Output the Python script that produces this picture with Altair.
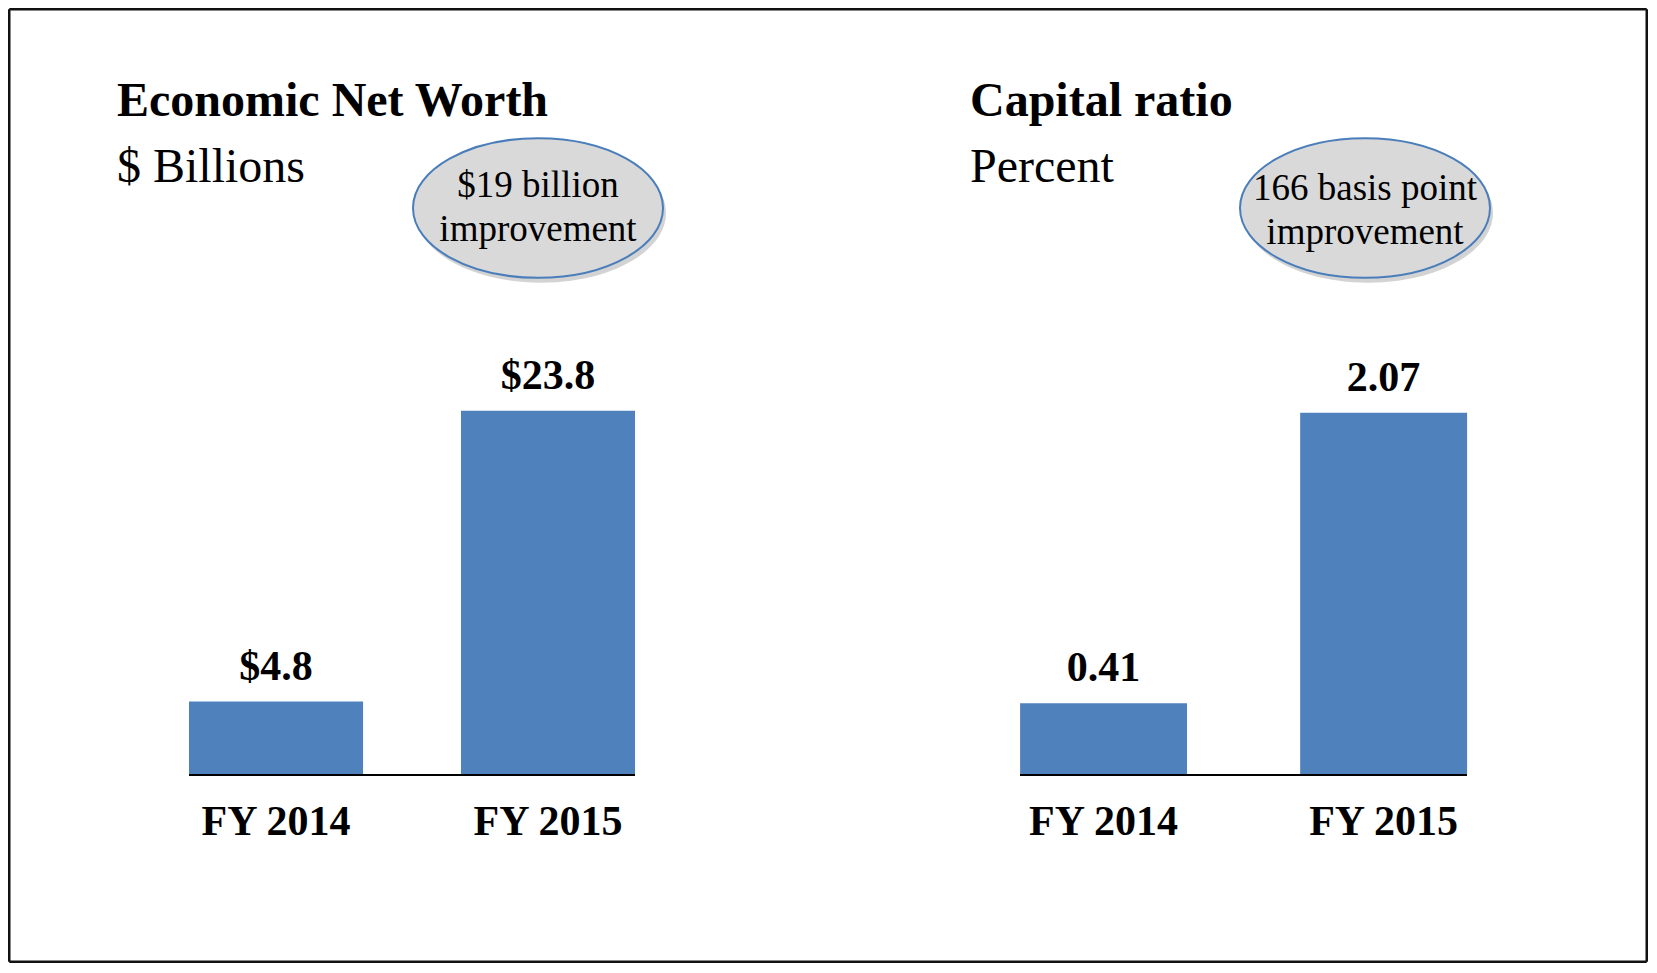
import altair as alt
import pandas as pd

# ---- data ----
categories = ["FY 2014", "FY 2015"]
net_worth = [4.8, 23.8]
net_worth_labels = ["$4.8", "$23.8"]
capital_ratio = [0.41, 2.07]
capital_labels = ["0.41", "2.07"]

FONT = "Liberation Serif"
BLUE = "#4F81BD"
PW, PH = 820, 955   # each panel
BASE_Y = 767        # baseline (zero) in panel coords

k = 0.5523
ry = 0.558
ELLIPSE = (f"M1,0 C1,{ry*k:.4f} {k},{ry} 0,{ry} C{-k},{ry} -1,{ry*k:.4f} -1,0 "
           f"C-1,{-ry*k:.4f} {-k},{-ry} 0,{-ry} C{k},{-ry} 1,{-ry*k:.4f} 1,0 Z")


def one():
    return alt.Data(values=[{"a": 1}])


def text_at(txt, x, y, size, bold=False, align="left"):
    return alt.Chart(one()).mark_text(
        text=txt, font=FONT, fontSize=size, fontWeight="bold" if bold else "normal",
        align=align, baseline="alphabetic", color="black"
    ).encode(x=alt.value(x), y=alt.value(y))


def panel(values, labels, pxunit, pin, pout, align, bar_l, bar_r,
          title, subtitle, tx, ell_x, ell_txt, txt_x, txt_y, side):
    df = pd.DataFrame({"cat": categories, "value": values, "label": labels})
    ymin = -(PH - BASE_Y) / pxunit
    ymax = BASE_Y / pxunit
    xs = alt.X("cat:N", sort=categories, axis=None,
               scale=alt.Scale(domain=categories, paddingInner=pin,
                               paddingOuter=pout, align=align))
    ys = alt.Y("value:Q", axis=None,
               scale=alt.Scale(domain=[ymin, ymax], nice=False))
    base = alt.Chart(df)
    bars = base.mark_bar(color=BLUE).encode(x=xs, y=ys)
    vals = base.mark_text(font=FONT, fontSize=42, fontWeight="bold",
                          baseline="alphabetic", dy=-22, color="black").encode(
        x=xs, y=ys, text="label:N")
    cats = base.mark_text(font=FONT, fontSize=42, fontWeight="bold",
                          baseline="alphabetic", color="black").encode(
        x=xs, y=alt.value(827), text="cat:N")
    rule = alt.Chart(one()).mark_rule(color="black", strokeWidth=2).encode(
        x=alt.value(bar_l), x2=alt.value(bar_r), y=alt.value(BASE_Y))
    t1 = text_at(title, tx, 108, 48, bold=True)
    t2 = text_at(subtitle, tx, 174, 48)
    shadow = alt.Chart(one()).mark_point(
        shape=ELLIPSE, size=250 ** 2, filled=True, fill="#808080", opacity=0.35,
        strokeWidth=0).encode(x=alt.value(ell_x + 3), y=alt.value(205))
    ell = alt.Chart(one()).mark_point(
        shape=ELLIPSE, size=250 ** 2, filled=True, fill="#D9D9D9", opacity=1,
        stroke="#4A7EBB", strokeWidth=2).encode(x=alt.value(ell_x), y=alt.value(200))
    e1 = text_at(ell_txt[0], txt_x, txt_y, 37, align="center")
    e2 = text_at(ell_txt[1], txt_x, txt_y + 44, 37, align="center")
    sw = 2.5
    h = sw / 2
    if side == "left":
        border = [
            alt.Chart(one()).mark_rule(color="#111", strokeWidth=sw).encode(
                x=alt.value(h), x2=alt.value(PW), y=alt.value(h)),
            alt.Chart(one()).mark_rule(color="#111", strokeWidth=sw).encode(
                x=alt.value(h), x2=alt.value(PW), y=alt.value(PH - h)),
            alt.Chart(one()).mark_rule(color="#111", strokeWidth=sw).encode(
                x=alt.value(h), y=alt.value(h), y2=alt.value(PH - h)),
        ]
    else:
        border = [
            alt.Chart(one()).mark_rule(color="#111", strokeWidth=sw).encode(
                x=alt.value(0), x2=alt.value(PW - h), y=alt.value(h)),
            alt.Chart(one()).mark_rule(color="#111", strokeWidth=sw).encode(
                x=alt.value(0), x2=alt.value(PW - h), y=alt.value(PH - h)),
            alt.Chart(one()).mark_rule(color="#111", strokeWidth=sw).encode(
                x=alt.value(PW - h), y=alt.value(h), y2=alt.value(PH - h)),
        ]
    return alt.layer(bars, rule, vals, cats, t1, t2, shadow, ell, e1, e2, *border).properties(
        width=PW, height=PH)


left = panel(net_worth, net_worth_labels, 15.3, 0.36, 0.6875, 0.484, 181, 627,
             "Economic Net Worth", "$ Billions", 109, 530,
             ["$19 billion", "improvement"], 530, 189, "left")
right = panel(capital_ratio, capital_labels, 175.0, 0.404, 0.666, 0.515, 192, 639,
              "Capital ratio", "Percent", 142, 537,
              ["166 basis point", "improvement"], 537, 192, "right")

chart = alt.hconcat(left, right, spacing=0, bounds="flush").properties(
    padding=0).configure_view(stroke=None)

chart.save("out.html", embed_options={"renderer": "svg", "actions": False})
